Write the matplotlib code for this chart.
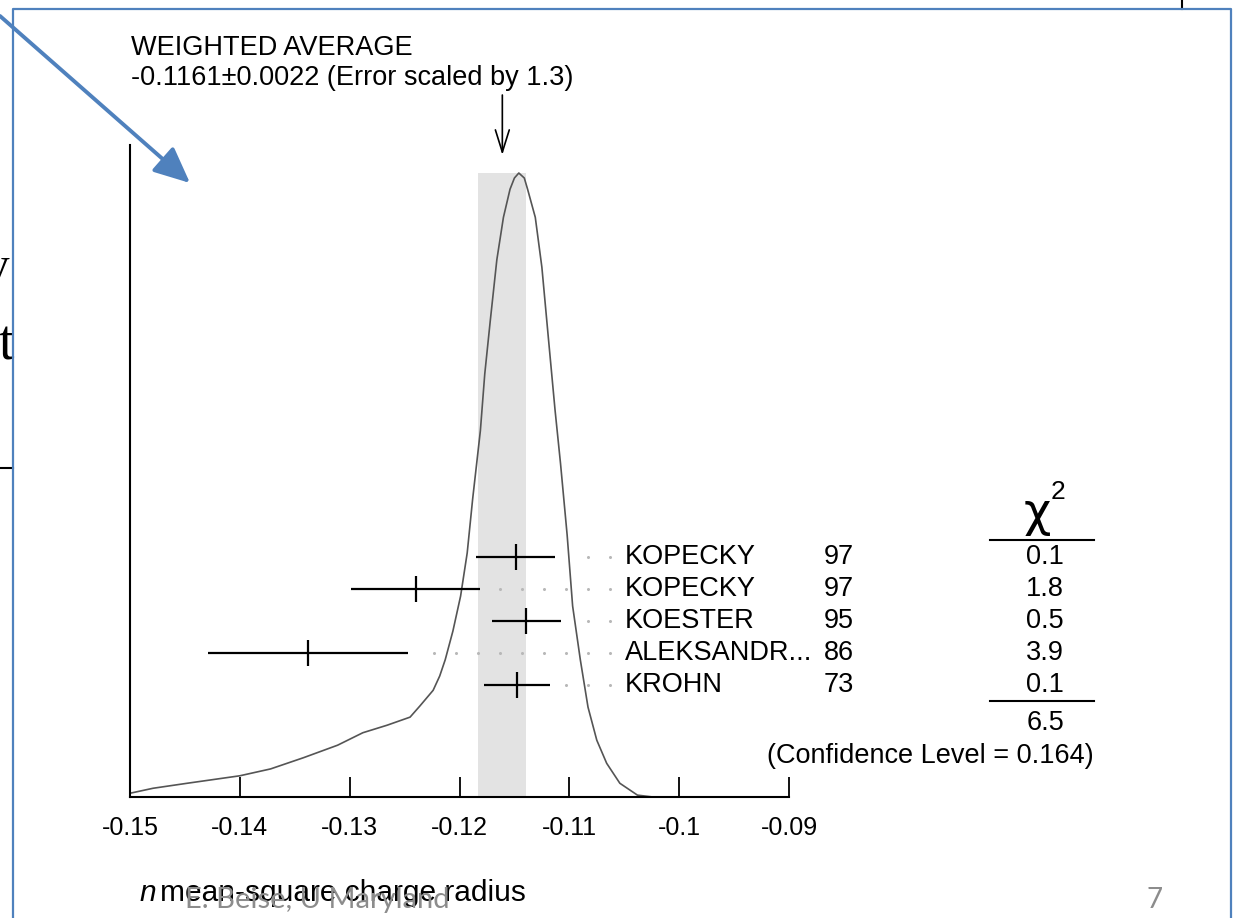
import matplotlib
matplotlib.use('Agg')
import matplotlib.pyplot as plt
import matplotlib.transforms as mtransforms
from matplotlib.lines import Line2D
from matplotlib.patches import FancyArrowPatch
import numpy as np

plt.rcParams['font.family'] = ['Liberation Sans', 'DejaVu Sans']

# measurements as drawn in the ideogram
names = ['KOPECKY', 'KOPECKY', 'KOESTER', 'ALEKSANDR...', 'KROHN']
years = ['97', '97', '95', '86', '73']
values = [-0.1149, -0.1240, -0.1139, -0.1338, -0.1148]
errors = [0.0036, 0.0059, 0.0031, 0.0091, 0.0030]
chi2 = ['0.1', '1.8', '0.5', '3.9', '0.1']
chi2_total = '6.5'
conf_level = '0.164'

avg = -0.1161
avg_err = 0.0022
err_scale = '1.3'

# ideogram curve (peak = 1)
curve_x = [-0.1500, -0.1479, -0.1448, -0.1400, -0.1372, -0.1342, -0.1311, -0.1288,
           -0.1266, -0.1245, -0.1236, -0.1224, -0.1218, -0.1213, -0.1206, -0.1199,
           -0.1193, -0.1188, -0.1181, -0.1177, -0.1172, -0.1166, -0.1160, -0.1154,
           -0.1150, -0.1146, -0.1141, -0.1138, -0.1131, -0.1125, -0.1119, -0.1113,
           -0.1108, -0.1102, -0.1097, -0.1090, -0.1083, -0.1075, -0.1066, -0.1054,
           -0.1038, -0.1024, -0.0900]
curve_y = [0.006, 0.014, 0.022, 0.034, 0.045, 0.063, 0.083, 0.103,
           0.115, 0.128, 0.146, 0.171, 0.194, 0.220, 0.266, 0.322,
           0.391, 0.478, 0.587, 0.678, 0.763, 0.861, 0.929, 0.974,
           0.992, 1.000, 0.992, 0.974, 0.929, 0.849, 0.734, 0.620,
           0.534, 0.420, 0.306, 0.220, 0.144, 0.091, 0.054, 0.022,
           0.003, 0.0, 0.0]

xticks = [-0.15, -0.14, -0.13, -0.12, -0.11, -0.1, -0.09]
xticklabels = ['-0.15', '-0.14', '-0.13', '-0.12', '-0.11', '-0.1', '-0.09']

W, H = 1234, 918


def fx(x):
    return x / W


def fy(y):
    return 1 - y / H


fig = plt.figure(figsize=(W / 100, H / 100), dpi=100)
fig.patch.set_facecolor('white')

ax = fig.add_axes([fx(130), fy(797), (789 - 130) / W, (797 - 145) / H])
ax.set_zorder(2)
ax.patch.set_alpha(0)
ax.set_xlim(-0.15, -0.09)
ax.set_ylim(0, 1.0449)

ax.axvspan(avg - avg_err, avg + avg_err, ymin=0, ymax=1 / 1.0449,
           color='#e3e3e3', lw=0, zorder=0)
ax.plot(curve_x, curve_y, color='#555555', lw=1.2, zorder=2,
        solid_joinstyle='round')

row_y = 0.385 - 0.0513 * np.arange(len(values))
ax.errorbar(values, row_y, xerr=errors, fmt='|', color='black', ms=19,
            mew=1.6, elinewidth=1.6, capsize=0, zorder=3)

# dotted leaders to the labels
grid = -0.1063 - 0.002 * np.arange(30)
for v, e, y in zip(values, errors, row_y):
    d = grid[grid > v + e + 0.0011]
    ax.plot(d, np.full(len(d), y), 'o', ms=2.2, color='#b8b8b8', mew=0, zorder=1)

ax.annotate('', xy=(avg, 1.029), xytext=(avg, 1.125),
            arrowprops=dict(arrowstyle='->,head_length=0.8,head_width=0.25',
                            color='black', lw=1.2, mutation_scale=20,
                            shrinkA=0, shrinkB=0),
            annotation_clip=False)

for s in ['top', 'right']:
    ax.spines[s].set_visible(False)
for s in ['left', 'bottom']:
    ax.spines[s].set_linewidth(1.5)
ax.set_yticks([])
ax.set_xticks(xticks)
ax.set_xticklabels(xticklabels)
ax.tick_params(axis='x', direction='in', length=14.4, width=1.3, pad=14,
               labelsize=18)

# right-hand table
tr = mtransforms.blended_transform_factory(fig.transFigure, ax.transData)
for n, yr, c, y in zip(names, years, chi2, row_y):
    ax.text(fx(625), y, n, transform=tr, fontsize=19.5, va='center', ha='left')
    ax.text(fx(824), y, yr, transform=tr, fontsize=19.5, va='center', ha='left')
    ax.text(fx(1045), y, c, transform=tr, fontsize=19.5, va='center', ha='center')

fig.text(fx(1037), fy(514), 'χ', fontsize=34, ha='center', va='center',
         family='DejaVu Sans')
fig.text(fx(1058), fy(492), '2', fontsize=19, ha='center', va='center')
fig.add_artist(Line2D([fx(990), fx(1094)], [fy(540), fy(540)], color='black', lw=1.5))
fig.add_artist(Line2D([fx(990), fx(1094)], [fy(701), fy(701)], color='black', lw=1.5))
fig.text(fx(1046), fy(723), chi2_total, fontsize=19.5, ha='center', va='center')
fig.text(fx(1094), fy(756), '(Confidence Level = %s)' % conf_level, fontsize=19.5,
         ha='right', va='center')

fig.text(fx(131), fy(48), 'WEIGHTED AVERAGE', fontsize=19.5, va='center')
fig.text(fx(131), fy(78), '%.4f±%.4f (Error scaled by %s)' % (avg, avg_err, err_scale),
         fontsize=19.5, va='center')

fig.text(fx(139), fy(893), 'n', fontsize=21.5, style='italic', va='center')
fig.text(fx(160), fy(893), 'mean-square charge radius', fontsize=21.5, va='center')

# slide decorations
fig.text(fx(9), fy(268), 'y', fontsize=34, ha='right', va='center',
         family='Liberation Serif', zorder=0)
fig.text(fx(14), fy(345), 't', fontsize=40, ha='right', va='center',
         family='Liberation Serif', zorder=0)
fig.add_artist(Line2D([0, fx(13)], [fy(468), fy(468)], color='black', lw=1.5))
fig.add_artist(Line2D([fx(1182), fx(1182)], [1, fy(9)], color='black', lw=1.5))

blue = '#4f81bd'
fig.add_artist(Line2D([fx(13), fx(13), fx(1231), fx(1231)],
                      [0, fy(9), fy(9), 0], color=blue, lw=1.6))
fig.add_artist(FancyArrowPatch((fx(0), fy(16)), (fx(190), fy(183)),
                               transform=fig.transFigure,
                               arrowstyle='-|>,head_length=1.1,head_width=0.5',
                               mutation_scale=20, color=blue, lw=2.8,
                               shrinkA=0, shrinkB=0, zorder=5))

fig.text(fx(185), fy(900), 'E. Beise, U Maryland', fontsize=21, color='#8c8c8c',
         family='Lato', va='center', zorder=5)
fig.text(fx(1155), fy(900), '7', fontsize=20, color='#8c8c8c',
         family='Lato', va='center', ha='center')

fig.savefig('out.png', dpi=100, facecolor='white')
